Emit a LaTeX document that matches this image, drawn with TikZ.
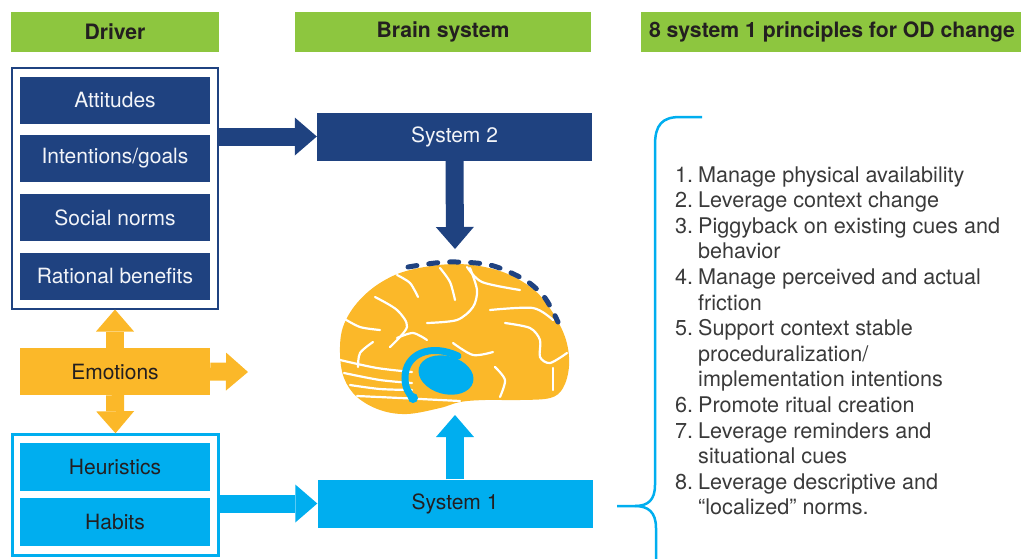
\documentclass[tikz,border=0pt]{standalone}
\usepackage{fontspec}
\setmainfont{TeX Gyre Heros}
\usetikzlibrary{arrows.meta,calc}
\definecolor{navy}{HTML}{1F4280}
\definecolor{sky}{HTML}{00AEEF}
\definecolor{amber}{HTML}{FBB829}
\definecolor{leaf}{HTML}{8DC63F}
\definecolor{ink}{HTML}{231F20}
\definecolor{listink}{HTML}{3A3A3A}
\definecolor{paleink}{HTML}{F2F4F8}
\begin{document}
\begin{tikzpicture}[x=1pt,y=-1pt,
  every node/.style={font=\fontsize{21}{25}\selectfont, inner sep=0pt},
  header/.style={fill=leaf, minimum height=40, text=ink,
    font=\fontsize{21.2}{25}\selectfont\bfseries},
  darkbox/.style={fill=navy, text=paleink, minimum width=190, minimum height=47},
  lightbox/.style={fill=sky, text=ink, minimum width=190, minimum height=48},
  sysbox/.style={minimum width=275, minimum height=48},
  blockarrow/.style={line width=18pt, -{Triangle[width=38pt,length=22pt,line width=0pt]}},
  listtext/.style={anchor=base west, text=listink, font=\fontsize{21.6}{26}\selectfont},
  sulcus/.style={white, line width=2.2pt, line cap=round},
]
\useasboundingbox (0,0) rectangle (1021,558);

% column headers
\node[header, minimum width=208] (hdrive) at (115,32) {Driver};
\node[header, minimum width=296] (hbrain) at (443,32) {Brain system};
\node[header, minimum width=382] (hprin) at (832,32) {8 system 1 principles for OD change};

% reflective drivers
\node[draw=navy, line width=2pt, minimum width=206, minimum height=241] (drv) at (115,188) {};
\node[darkbox] (att) at (115,100) {Attitudes};
\node[darkbox] (int) at (115,158.5) {Intentions/goals};
\node[darkbox] (soc) at (115,217.5) {Social norms};
\node[darkbox] (rat) at (115,276) {Rational benefits};

% emotions
\node[fill=amber, text=ink, minimum width=190, minimum height=47] (emo) at (115,371.5) {Emotions};

% automatic drivers
\node[draw=sky, line width=2.5pt, minimum width=206, minimum height=121] (auto) at (115.5,495) {};
\node[lightbox] (heu) at (115,467) {Heuristics};
\node[lightbox] (hab) at (115,522) {Habits};

% the two systems
\node[sysbox, fill=navy, text=paleink] (sys2) at (454.5,136.5) {System 2};
\node[sysbox, fill=sky, text=ink] (sys1) at (455,503.5) {System 1};

\coordinate (braintop) at (455,249);
\coordinate (brainbot) at (455,415);
\coordinate (emoout) at (248,372);

% block arrows
\draw[blockarrow, navy] (drv.east |- sys2.west) -- (sys2.west);
\draw[blockarrow, navy] (sys2.south) -- (braintop);
\draw[blockarrow, sky] (auto.east |- sys1.west) -- (sys1.west);
\draw[blockarrow, sky] (sys1.north) -- (brainbot);
\draw[blockarrow, amber] (emo.north) -- (drv.south);
\draw[blockarrow, amber] (emo.south) -- (auto.north);
\draw[blockarrow, amber] (emo.east) -- (emoout);

% brain
\fill[amber] plot[smooth cycle, tension=0.6] coordinates {
  (340,353) (343,327) (357,303) (380,283) (410,270) (457,264) (500,271)
  (533,289) (553,313) (566,340) (569,366) (563,388) (550,398) (520,400)
  (485,400) (460,402) (440,408) (407,414) (380,410) (357,397) (344,378)};
\draw[sulcus] plot[smooth] coordinates {(397,275) (410,283) (418,297)};
\draw[sulcus] plot[smooth] coordinates {(440,268) (450,282) (455,300)};
\draw[sulcus] plot[smooth] coordinates {(467,267) (482,282) (520,290)};
\draw[sulcus] plot[smooth] coordinates {(375,297) (397,310) (407,327) (390,347)};
\draw[sulcus] plot[smooth] coordinates {(343,318) (360,327) (380,330)};
\draw[sulcus] plot[smooth] coordinates {(470,268) (477,290) (473,307) (457,320) (427,323)};
\draw[sulcus] plot[smooth] coordinates {(490,310) (533,308) (553,320)};
\draw[sulcus] plot[smooth] coordinates {(505,323) (530,328) (540,340) (540,357) (550,363) (567,353)};
\draw[sulcus] plot[smooth] coordinates {(453,343) (473,355) (493,352)};
\draw[sulcus] plot[smooth] coordinates {(495,367) (505,380) (500,397)};
\draw[sulcus] plot[smooth] coordinates {(553,368) (553,390)};
\draw[sulcus] plot[smooth] coordinates {(373,342) (360,353) (358,367)};
\draw[sulcus] plot[smooth] coordinates {(397,338) (413,333) (427,340)};
\draw[sulcus] plot[smooth] coordinates {(340,360) (377,368) (412,372)};
\draw[sulcus] plot[smooth] coordinates {(344,373) (380,380) (412,383)};
\draw[sulcus] plot[smooth] coordinates {(350,385) (380,389) (412,390)};
\draw[sulcus] plot[smooth] coordinates {(357,396) (400,398) (460,401)};
% hippocampus
\fill[sky, rotate around={-15:(446,375)}] (446,375) ellipse [x radius=28, y radius=19];
\draw[sky, line width=7pt, line cap=round] (458,356) .. controls (430,343) and (405,354) .. (405,378) .. controls (405,388) and (409,394) .. (413,398);
\fill[sky] (413,398) circle (5);
% dashed rim over the top
\draw[navy, line width=5pt, line cap=round, dash pattern=on 9pt off 12pt]
  plot[smooth] coordinates {(408,267) (447,262) (490,265) (525,280) (545,298) (558,322)};

% brace
\draw[sky, line width=2.5pt]
  (702,117) -- (680,117) .. controls (662,117) and (655,125) .. (655,145)
  -- (655,485) .. controls (655,500) and (648,506) .. (635,506) -- (617,506);
\draw[sky, line width=2.5pt]
  (635,506) .. controls (648,506) and (656,512) .. (656,528) -- (656,560);

% principles
\foreach \t [count=\i] in {Manage physical availability, Leverage context change,
  Piggyback on existing cues and, behavior, Manage perceived and actual, friction,
  Support context stable, {proceduralization/}, implementation intentions,
  Promote ritual creation, Leverage reminders and, situational cues,
  Leverage descriptive and, {“localized” norms.}}
  \node[listtext] (p\i) at (698,{182+25.6*(\i-1)}) {\t};
\foreach \n/\l in {1/1,2/2,3/3,4/5,5/7,6/10,7/11,8/13}
  \node[listtext] (n\n) at (675,{182+25.6*(\l-1)}) {\n.};
\end{tikzpicture}
\end{document}
